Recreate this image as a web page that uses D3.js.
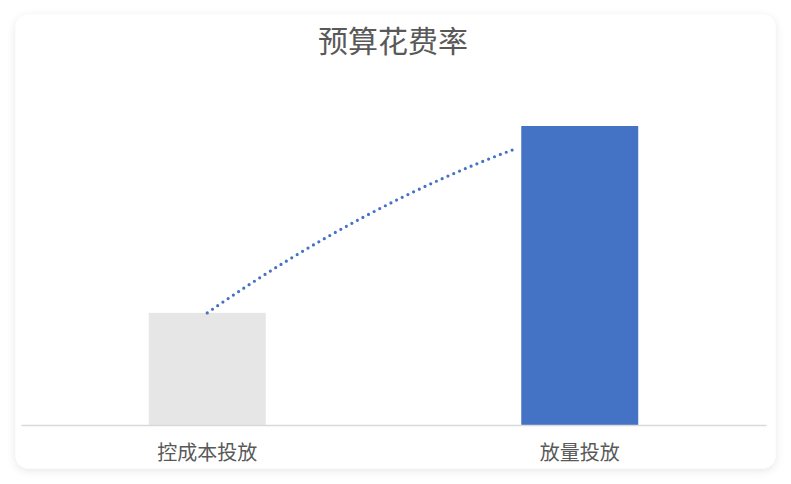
<!DOCTYPE html>
<html><head><meta charset="utf-8">
<script src="https://cdn.jsdelivr.net/npm/d3@7"></script>
<style>
html,body{margin:0;padding:0;background:#fff;}
svg{display:block;font-family:"Noto Sans CJK SC","Noto Sans",sans-serif;}
</style></head>
<body>
<script>
// Data
const title = "预算花费率";
const categories = ["控成本投放", "放量投放"];
const values = [37.5, 100];          // budget spend rate (%), relative
const barColors = ["#E6E6E6", "#4472C4"];
const yMax = 120;
// dotted connector (annotation): start at bar 1 top, end near bar 2 at this value, bulge value
const connectorEndValue = 92.6;
const connectorBulgeValue = 73.6;

const W = 791, H = 484;
const svg = d3.select("body").append("svg").attr("width", W).attr("height", H);

const defs = svg.append("defs");
const f = defs.append("filter").attr("id","sh").attr("x","-5%").attr("y","-5%").attr("width","110%").attr("height","115%");
f.append("feDropShadow").attr("dx",0).attr("dy",2).attr("stdDeviation",4).attr("flood-color","#000").attr("flood-opacity",0.10);

svg.append("rect").attr("x",15.5).attr("y",14.5).attr("width",760).attr("height",454)
  .attr("rx",13).attr("fill","#fff").attr("filter","url(#sh)");

const left = 21, right = 766, baseY = 425, topY = baseY - 299 * yMax / 100;

const x = d3.scaleBand().domain(categories).range([left, right]).padding(0);
const barW = x.bandwidth() * 0.314;
const y = d3.scaleLinear().domain([0, yMax]).range([baseY, topY]);

svg.append("text").attr("x", 393).attr("y", 39).attr("text-anchor","middle")
  .attr("dominant-baseline","central").attr("font-size",30).attr("fill","#595959").text(title);

svg.selectAll("rect.bar").data(categories).join("rect").attr("class","bar")
  .attr("x", d => x(d) + x.bandwidth()/2 - barW/2)
  .attr("width", barW)
  .attr("y", (d,i) => y(values[i]))
  .attr("height", (d,i) => y(0) - y(values[i]))
  .attr("fill", (d,i) => barColors[i]);

// axis
const xAxis = d3.axisBottom(x).tickSize(0).tickPadding(0);
const ax = svg.append("g").attr("transform", `translate(0,${baseY})`).call(xAxis);
ax.select(".domain").attr("stroke","#D9D9D9").attr("stroke-width",1.5);
ax.selectAll(".tick text").attr("font-size",20).attr("fill","#595959")
  .attr("font-family",'"Noto Sans CJK SC",sans-serif')
  .attr("dy",null).attr("y",26).attr("dominant-baseline","central");

// dotted connector
const x0 = x(categories[0]) + x.bandwidth()/2;
const y0 = y(values[0]);
const x2 = x(categories[1]) + x.bandwidth()/2 - barW/2 - 4;
const y2 = y(connectorEndValue);
const cx = (x0 + x2) / 2, cy = y(connectorBulgeValue);
const p = d3.path();
p.moveTo(x0, y0);
p.quadraticCurveTo(cx, cy, x2, y2);
svg.append("path").attr("d", p.toString()).attr("fill","none")
  .attr("stroke","#4472C4").attr("stroke-width",3.2)
  .attr("stroke-linecap","round").attr("stroke-dasharray","0 6.3");
</script>
</body></html>
